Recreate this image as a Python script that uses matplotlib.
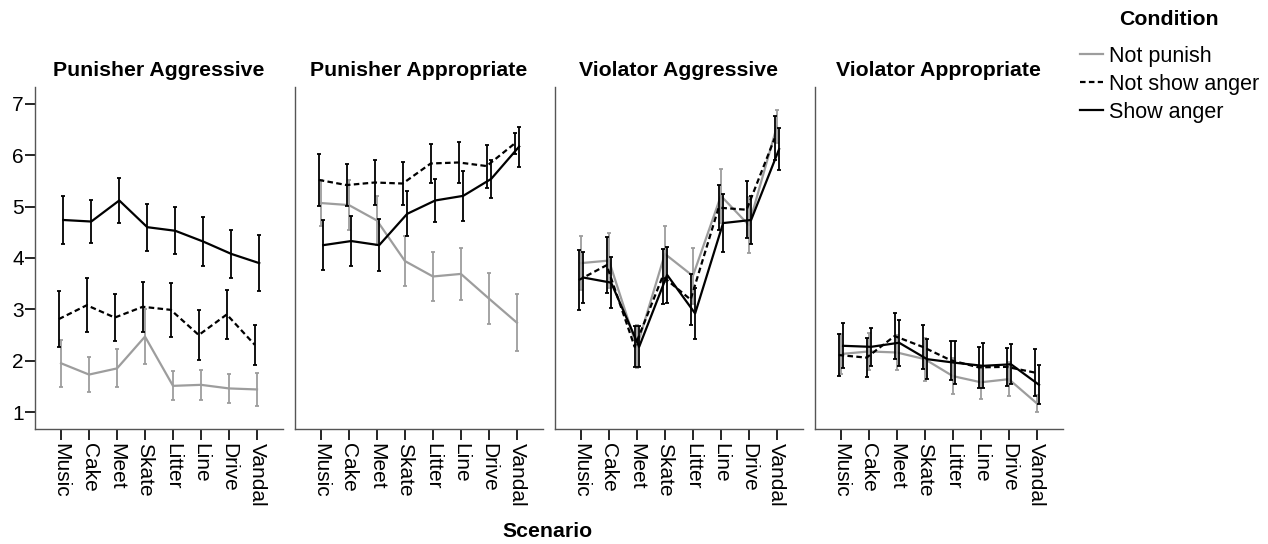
import numpy as np
import matplotlib
matplotlib.use("Agg")
import matplotlib.pyplot as plt
from matplotlib.lines import Line2D

plt.rcParams["font.family"] = ["Liberation Sans", "DejaVu Sans"]

# ── Dados ─────────────────────────────────────────────
scenarios = ["Music", "Cake", "Meet", "Skate", "Litter", "Line", "Drive", "Vandal"]
panels = ["Punisher Aggressive", "Punisher Appropriate", "Violator Aggressive", "Violator Appropriate"]

# Not punish (cinza)
np_mean = [
    [1.95, 1.73, 1.85, 2.47, 1.51, 1.53, 1.46, 1.44],
    [5.07, 5.03, 4.73, 3.94, 3.64, 3.69, 3.21, 2.74],
    [3.90, 3.95, 2.27, 4.08, 3.65, 5.21, 4.64, 6.56],
    [2.13, 2.18, 2.16, 2.03, 1.70, 1.58, 1.64, 1.17],
]
np_err = [
    [0.46, 0.34, 0.37, 0.54, 0.28, 0.29, 0.29, 0.33],
    [0.44, 0.48, 0.48, 0.48, 0.47, 0.51, 0.50, 0.55],
    [0.53, 0.53, 0.42, 0.54, 0.54, 0.52, 0.54, 0.33],
    [0.39, 0.36, 0.34, 0.42, 0.35, 0.32, 0.33, 0.16],
]
# Not show anger (tracejado)
nsa_mean = [
    [2.81, 3.08, 2.84, 3.05, 2.99, 2.50, 2.90, 2.31],
    [5.52, 5.42, 5.47, 5.45, 5.84, 5.86, 5.79, 6.23],
    [3.57, 3.86, 2.27, 3.64, 3.19, 4.98, 4.94, 6.33],
    [2.11, 2.06, 2.48, 2.27, 2.01, 1.87, 1.88, 1.77],
]
nsa_err = [
    [0.54, 0.53, 0.46, 0.49, 0.52, 0.48, 0.48, 0.39],
    [0.51, 0.41, 0.43, 0.41, 0.38, 0.40, 0.42, 0.21],
    [0.58, 0.54, 0.40, 0.54, 0.50, 0.44, 0.56, 0.43],
    [0.41, 0.38, 0.45, 0.43, 0.38, 0.40, 0.37, 0.45],
]
# Show anger (preto)
sa_mean = [
    [4.74, 4.71, 5.12, 4.60, 4.53, 4.32, 4.08, 3.90],
    [4.25, 4.33, 4.25, 4.86, 5.12, 5.21, 5.54, 6.17],
    [3.62, 3.52, 2.27, 3.67, 2.92, 4.68, 4.74, 6.12],
    [2.29, 2.27, 2.35, 2.03, 1.96, 1.90, 1.93, 1.53],
]
sa_err = [
    [0.47, 0.42, 0.44, 0.46, 0.46, 0.48, 0.46, 0.55],
    [0.49, 0.48, 0.50, 0.44, 0.42, 0.49, 0.37, 0.39],
    [0.50, 0.49, 0.40, 0.55, 0.50, 0.56, 0.46, 0.41],
    [0.44, 0.37, 0.45, 0.39, 0.42, 0.44, 0.39, 0.38],
]

GRAY = "#9d9d9d"
DASH = (0, (2.5, 1.5))
x = np.arange(len(scenarios))

fig = plt.figure(figsize=(12.68, 5.44), dpi=100)

for i, title in enumerate(panels):
    ax = fig.add_axes([0.0276 + i * 0.2050, 0.2114, 0.1956, 0.6287])

    series = [
        (np_mean[i], np_err[i], GRAY, "-", 0.0),
        (nsa_mean[i], nsa_err[i], "black", DASH, -0.08),
        (sa_mean[i], sa_err[i], "black", "-", 0.08),
    ]
    for mean, err, col, ls, dx in series:
        ax.plot(x + dx, mean, color=col, linestyle=ls, lw=1.6)
        ax.errorbar(x + dx, mean, yerr=err, fmt="none", ecolor=col,
                    elinewidth=1.3, capsize=1.5, capthick=1.3)

    ax.set_xlim(-0.93, 7.93)
    ax.set_ylim(0.67, 7.33)
    ax.set_title(title, fontsize=15.3, fontweight="bold", pad=8)
    for s in ["top", "right"]:
        ax.spines[s].set_visible(False)
    for s in ["left", "bottom"]:
        ax.spines[s].set_color("#555555")
        ax.spines[s].set_linewidth(1.0)

    ax.set_xticks(x)
    ax.set_xticklabels(scenarios, rotation=-90, fontsize=15)
    ax.tick_params(axis="x", length=8, width=1.2, pad=2)
    if i == 0:
        ax.set_yticks(range(1, 8))
        ax.tick_params(axis="y", length=7, width=1.2, labelsize=15, pad=1)
    else:
        ax.set_yticks([])

fig.text(0.432, 0.012, "Scenario", fontsize=15.3, fontweight="bold", ha="center")

# ── Legenda ─────────────────────────────────────────────
fig.text(0.922, 0.965, "Condition", fontsize=15.3, fontweight="bold", ha="center", va="center")
handles = [
    Line2D([], [], color=GRAY, lw=1.6),
    Line2D([], [], color="black", lw=1.6, linestyle=DASH),
    Line2D([], [], color="black", lw=1.6),
]
fig.legend(handles, ["Not punish", "Not show anger", "Show anger"],
           loc="upper left", bbox_to_anchor=(0.852, 0.916), frameon=False,
           fontsize=15.5, handlelength=1.05, handletextpad=0.3,
           labelspacing=0.33, borderpad=0, borderaxespad=0)

fig.savefig("out.png", dpi=100)
